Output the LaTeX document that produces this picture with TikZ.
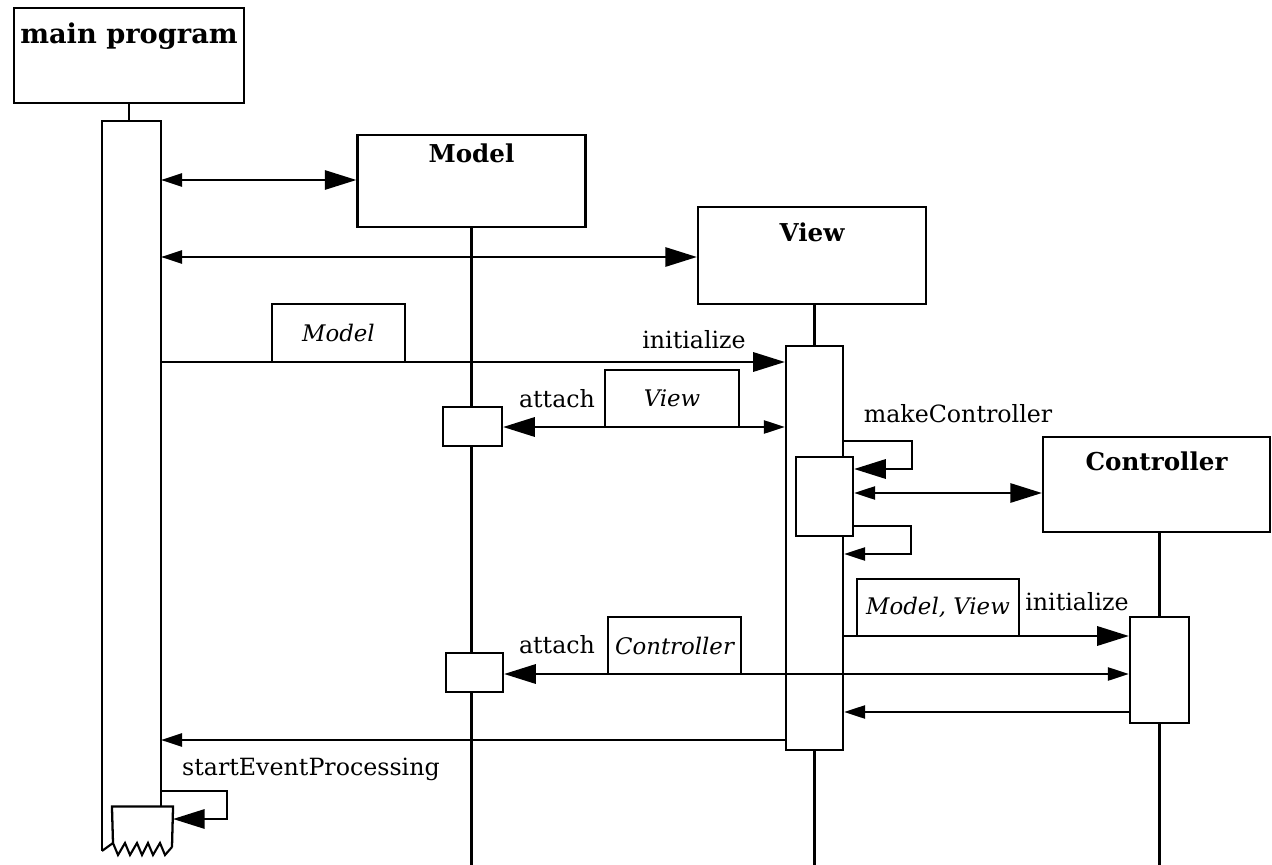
\documentclass[tikz,border=0pt]{standalone}
\usepackage{fontspec}
\setmainfont{DejaVu Serif}
\usetikzlibrary{arrows.meta}
\begin{document}
\begin{tikzpicture}[x=0.02cm,y=-0.02cm,
  line width=1.2pt,
  objbox/.style={draw, line width=1.3pt, rectangle, inner sep=0pt},
  actbox/.style={draw, fill=white, line width=1.3pt, rectangle, inner sep=0pt},
  hidden/.style={rectangle, inner sep=0pt},
  lifeline/.style={line width=1.2pt},
  param/.style={draw, line width=1.3pt, rectangle, inner sep=0pt, font=\fontsize{13}{15}\selectfont\itshape},
  title/.style={font=\fontsize{14}{16}\selectfont\bfseries, inner sep=0pt, anchor=base},
  lbl/.style={font=\fontsize{13.5}{16}\selectfont, inner sep=0pt, anchor=base},
  sbig/.style={-{Triangle[length=18pt,width=11pt]}},
  ssmall/.style={-{Triangle[length=12pt,width=7.5pt]}},
  dsb/.style={{Triangle[length=12pt,width=7.5pt]}-{Triangle[length=18pt,width=11pt]}},
  dbs/.style={{Triangle[length=18pt,width=11pt]}-{Triangle[length=12pt,width=7.5pt]}},
]
\useasboundingbox (0,0) rectangle (1272,865);
\coordinate (bot) at (0,865);
\foreach \yy in {180,257,362,427,441,469,493,526,554,636,674,712,740,791,819}{\coordinate (y\yy) at (0,\yy);}

% object boxes
\node[objbox, minimum width=4.6cm, minimum height=1.9cm] (main) at (129,55.5) {};
\node[title, font=\fontsize{15.5}{18}\selectfont\bfseries] (maint) at (129,44) {main program};
\node[objbox, minimum width=4.56cm, minimum height=1.84cm] (model) at (471.5,181) {};
\node[title] (modelt) at (471.5,163) {Model};
\node[objbox, minimum width=4.56cm, minimum height=1.94cm] (view) at (812,255.5) {};
\node[title] (viewt) at (812,241) {View};
\node[objbox, minimum width=4.54cm, minimum height=1.9cm] (ctrl) at (1156.5,484.5) {};
\node[title] (ctrlt) at (1156.5,470) {Controller};

% activations (positions)
\node[hidden, minimum width=1.14cm, minimum height=14.56cm] (mact) at (131.5,486) {};
\node[hidden, minimum width=1.18cm, minimum height=0.78cm] (sevact) at (142.5,827) {};
\node[actbox, minimum width=1.18cm, minimum height=0.78cm] (mA) at (472.5,426.5) {};
\node[actbox, minimum width=1.14cm, minimum height=0.78cm] (mB) at (474.5,672.5) {};

% lifelines
\draw[lifeline] (main.south) -- (main.south |- mact.north);
\draw[lifeline] (model.south) -- (model.south |- mA.north);
\draw[lifeline] (model.south |- mA.south) -- (model.south |- mB.north);
\draw[lifeline] (model.south |- mB.south) -- (model.south |- bot);

\node[actbox, minimum width=1.14cm, minimum height=8.08cm] (vact) at (814.5,548) {};
\draw[lifeline] (vact.north) -- (vact.north |- view.south);
\draw[lifeline] (vact.south) -- (vact.south |- bot);
\node[actbox, minimum width=1.14cm, minimum height=1.58cm] (vnest) at (824.5,496.5) {};

\node[actbox, minimum width=1.18cm, minimum height=2.12cm] (cact) at (1159.5,670) {};
\draw[lifeline] (cact.north) -- (cact.north |- ctrl.south);
\draw[lifeline] (cact.south) -- (cact.south |- bot);

% main activation with broken (zigzag) end
\draw[line width=1.3pt] (mact.south west) -- (mact.north west) -- (mact.north east) -- (mact.north east |- sevact.north);
\draw[line width=1.3pt] (113,843) -- (sevact.north west) -- (sevact.north east) -- (172,847);
\draw[line width=1.2pt, line join=miter] (mact.south west) -- (113,843) -- (118,855) -- (125,843) -- (130,855) -- (137,843) -- (142,855) -- (148,843) -- (153,855) -- (160,843) -- (165,855) -- (172,847);

% messages
\draw[dsb] (mact.east |- y180) -- (model.west |- y180);
\draw[dsb] (mact.east |- y257) -- (view.west |- y257);

\draw[sbig] (mact.east |- y362) -- (vact.west |- y362);
\node[param, minimum width=2.66cm, minimum height=1.16cm] (pModel) at (338.5,333) {Model};
\node[lbl] (init1) at (694,348) {initialize};

\draw[dbs] (mA.east |- y427) -- (vact.west |- y427);
\node[param, minimum width=2.68cm, minimum height=1.14cm] (pView) at (672,398.5) {View};
\node[lbl] (att1) at (557,407) {attach};

\draw[sbig] (vact.east |- y441) -- ++(68,0) |- (vnest.east |- y469);
\node[lbl] (mkc) at (958,422) {makeController};
\draw[dsb] (vnest.east |- y493) -- (ctrl.west |- y493);
\draw[ssmall] (vnest.east |- y526) -- ++(57,0) |- (vact.east |- y554);

\draw[sbig] (vact.east |- y636) -- (cact.west |- y636);
\node[param, minimum width=3.24cm, minimum height=1.14cm] (pMV) at (938,607.5) {Model, View};
\node[lbl] (init2) at (1077,610) {initialize};

\draw[dbs] (mB.east |- y674) -- (cact.west |- y674);
\node[param, minimum width=2.66cm, minimum height=1.14cm] (pCtrl) at (674.5,645.5) {Controller};
\node[lbl] (att2) at (557,653) {attach};

\draw[ssmall] (cact.west |- y712) -- (vact.east |- y712);
\draw[ssmall] (vact.west |- y740) -- (mact.east |- y740);

\draw[sbig] (mact.east |- y791) -- ++(66,0) |- (sevact.east |- y819);
\node[lbl] (sep) at (311,775) {startEventProcessing};
\end{tikzpicture}
\end{document}
